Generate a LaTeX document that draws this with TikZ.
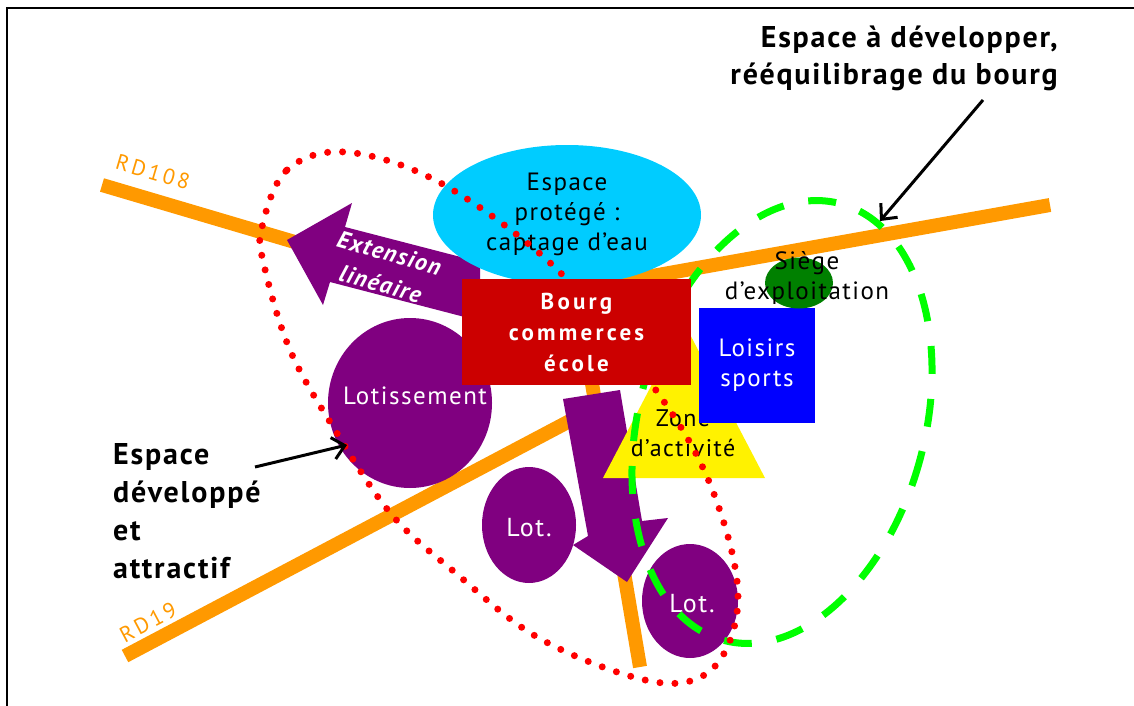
\documentclass[tikz,border=0pt]{standalone}
\usepackage{fontspec}
\setmainfont{PT Sans}[LetterSpace=6]
\newfontfamily\widefont[LetterSpace=14]{PT Sans}
\usetikzlibrary{arrows.meta,shapes.geometric}
\definecolor{road}{HTML}{FF9900}
\definecolor{zonelot}{HTML}{800080}
\definecolor{eau}{HTML}{00CCFF}
\definecolor{bourg}{HTML}{CC0000}
\definecolor{loisir}{HTML}{0000FF}
\definecolor{siege}{HTML}{008000}
\definecolor{futur}{HTML}{00FF00}
\definecolor{actuel}{HTML}{FF0000}
\newcommand{\fs}[2]{\fontsize{#1}{#2}\selectfont}

\begin{document}
\begin{tikzpicture}[x=1pt,y=-1pt,
  roadline/.style={draw=road,line width=14pt},
  roadname/.style={text=road,font=\widefont\fs{22}{26},inner sep=0pt},
  zone/.style={fill=zonelot,draw=none,inner sep=0pt},
  whitetxt/.style={text=white,inner sep=0pt,align=center},
  blacktxt/.style={text=black,inner sep=0pt,align=center},
  note/.style={font=\bfseries\fs{30}{37},inner sep=0pt},
  pointer/.style={line width=3pt,-{Straight Barb[length=12pt,width=22pt]}}]
\useasboundingbox (0,0) rectangle (1134,706);
\draw[line width=2pt] (7,706) -- (7,8) -- (1134,8);

\draw[roadline] (102,185) -- (501,303) -- (1050,205);
\draw[roadline] (125,656) -- (600,405);
\draw[roadline] (588,360) -- (640,667);
\node[roadname,rotate=-16.5] (rd108) at (153,172) {RD108};
\node[roadname,rotate=28] (rd19) at (148,622) {RD19};

\fill[zonelot] (287,240) -- (352,203) -- (345,227) -- (480,262) -- (480,321) -- (330,282) -- (323,305) -- cycle;
\node[ellipse,fill=eau,minimum width=268pt,minimum height=140pt] (eau) at (567,215) {};
\node[blacktxt,font=\fs{25}{30}] (eautxt) at (567,214) {Espace\\protégé :\\captage d’eau};
\node[whitetxt,font=\bfseries\itshape\fs{24}{32},rotate=-16] (ext) at (385,268.5) {Extension\\linéaire};

\node[ellipse,zone,minimum width=164pt,minimum height=170pt] (lotis) at (410,403) {};
\node[whitetxt,font=\fs{25}{28}] (lotistxt) at (415,396) {Lotissement};
\node[ellipse,zone,minimum width=94pt,minimum height=116pt] (lot1) at (529,525) {};
\node[whitetxt,font=\fs{26}{28}] (lot1txt) at (529,528) {Lot.};
\node[ellipse,zone,minimum width=96pt,minimum height=114pt] (lot2) at (690,601) {};
\node[whitetxt,font=\fs{26}{28}] (lot2txt) at (692,604) {Lot.};
\fill[zonelot] (563,399) -- (620,390) -- (642,521) -- (668,518) -- (627,582) -- (573,545) -- (588,536) -- cycle;

\fill[yellow] (603,478) -- (765,478) -- (684,323) -- cycle;
\node[blacktxt,font=\fs{24}{30}] (zonetxt) at (683,433) {Zone\\d’activité};
\node[rectangle,fill=loisir,minimum width=116pt,minimum height=115pt,whitetxt,font=\fs{25}{30}] (loisirs) at (757,365.5) {Loisirs\\sports};
\node[ellipse,fill=siege,minimum width=68pt,minimum height=51pt] (siege) at (799,283) {};
\node[blacktxt,font=\fs{25}{30}] (siegetxt) at (807,278) {Siège\\d’exploitation};

\draw[futur,line width=7pt,dash pattern=on 28pt off 25pt,rotate around={-15:(782,422)}] (782,422) ellipse [x radius=143, y radius=226];
\draw[actuel,line width=7pt,line cap=round,dash pattern=on 0pt off 15pt] plot[smooth cycle,tension=0.6] coordinates {(262,227) (287,170) (345,152) (435,180) (538,252) (610,330) (685,434) (723,520) (738,600) (720,660) (680,683) (617,672) (532,634) (458,575) (392,515) (335,430) (290,350) (264,265)};

\node[rectangle,fill=bourg,minimum width=229pt,minimum height=106pt,text=white,align=center,font=\widefont\bfseries\fs{23}{31}] (bourg) at (576.5,332) {Bourg\\commerces\\école};

\node[note,align=right,anchor=north east] (devnote) at (1058,26) {Espace à développer,\\rééquilibrage du bourg};
\coordinate (devfrom) at (983,100);
\coordinate (devto) at (880,221);
\draw[pointer] (devfrom) -- (devto);
\node[note,font=\bfseries\fs{30}{38},align=left,anchor=north west] (actnote) at (113,443) {Espace\\développé\\et\\attractif};
\coordinate (actfrom) at (255,467);
\coordinate (actto) at (347,445);
\draw[pointer] (actfrom) -- (actto);
\end{tikzpicture}
\end{document}
